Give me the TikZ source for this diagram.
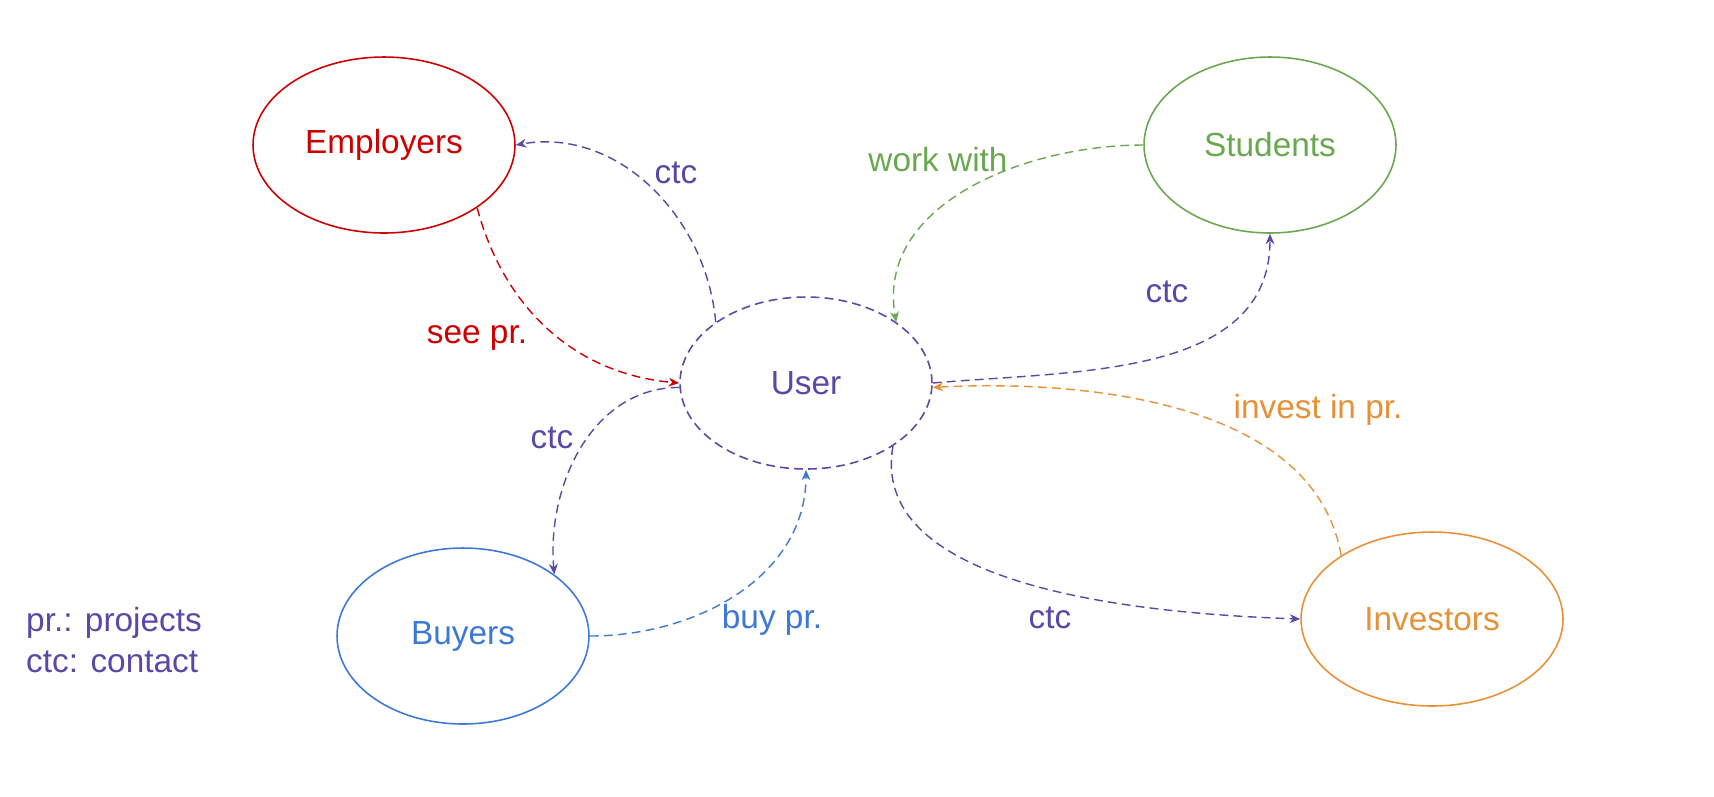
\documentclass[tikz,border=0pt]{standalone}
\usepackage{fontspec}
\setmainfont{Liberation Sans}
\usetikzlibrary{shapes.geometric,arrows.meta}
\definecolor{cr}{HTML}{CC0000}
\definecolor{cg}{HTML}{6AA84F}
\definecolor{cp}{HTML}{5B47A6}
\definecolor{cb}{HTML}{3C78D8}
\definecolor{co}{HTML}{E69138}
\begin{document}
\begin{tikzpicture}[x=0.02cm,y=-0.02cm,
  ell/.style={ellipse,draw,line width=0.9pt,inner sep=0pt,font=\fontsize{19}{23}\selectfont},
  lab/.style={font=\fontsize{19}{23}\selectfont},
  con/.style={dash pattern=on 5pt off 3pt,line width=0.8pt,-{Stealth[length=6pt,width=5pt]}}]
\useasboundingbox (0,0) rectangle (1714,796);
\node[ell,cr,minimum width=5.24cm,minimum height=3.52cm] (E) at (384,145) {Employers};
\node[ell,cg,minimum width=5.04cm,minimum height=3.52cm] (S) at (1270,145) {Students};
\node[ell,cp,dash pattern=on 5pt off 3pt,minimum width=5.04cm,minimum height=3.44cm] (U) at (806,383) {User};
\node[ell,cb,minimum width=5.04cm,minimum height=3.52cm] (B) at (463,636) {Buyers};
\node[ell,co,minimum width=5.24cm,minimum height=3.48cm] (I) at (1432,619) {Investors};
\draw[con,cp] (U.146) to[out=95,in=10] (E.east);
\draw[con,cr] (E.-34) to[out=-75,in=175] (U.west);
\draw[con,cg] (S.west) to[out=180,in=100] (U.34);
\draw[con,cp] (U.east) to[out=5,in=-90] (S.south);
\draw[con,co] (I.145) to[out=100,in=3,looseness=0.9] (U.-2);
\draw[con,cp] (U.-36) to[out=-100,in=178,looseness=0.85] (I.west);
\draw[con,cp] (U.182) to[out=180,in=95] (B.34);
\draw[con,cb] (B.east) to[out=0,in=-90] (U.south);
\node[lab,cp] (l1) at (676,173) {ctc};
\node[lab,cr] (l2) at (477,338) {see pr.};
\node[lab,cg] (l3) at (938,160) {work with};
\node[lab,cp] (l4) at (1167,292) {ctc};
\node[lab,co] (l5) at (1318,410) {invest in pr.};
\node[lab,cp] (l6) at (1050,618) {ctc};
\node[lab,cp] (l7) at (552,438) {ctc};
\node[lab,cb] (l8) at (772,620) {buy pr.};
\node[lab,cp,anchor=west,align=left] (leg) at (20,640) {pr.: projects\\ctc: contact};
\end{tikzpicture}
\end{document}
